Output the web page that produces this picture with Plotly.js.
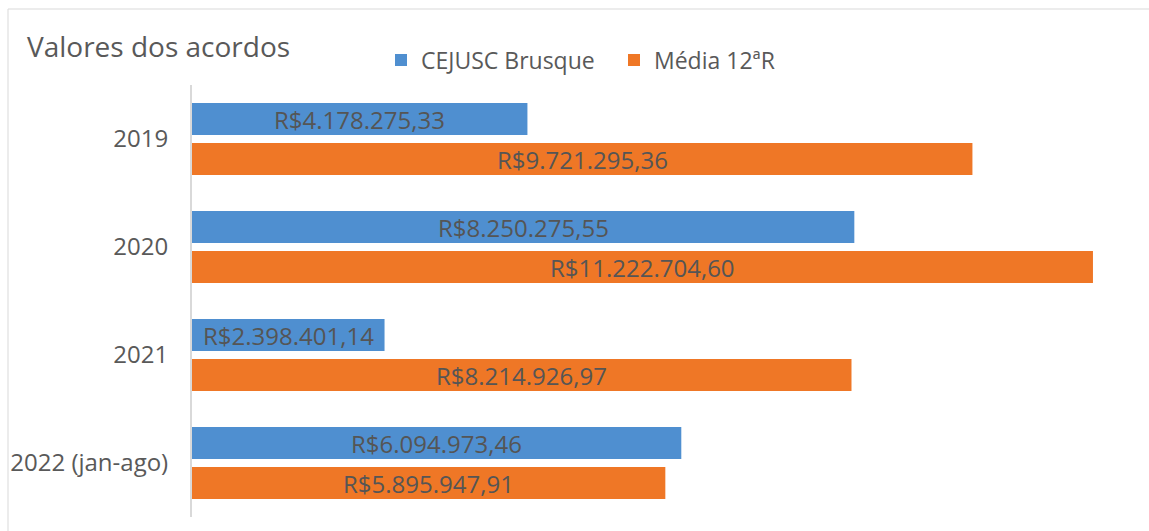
<!DOCTYPE html>
<html>
<head>
<meta charset="utf-8">
<script src="https://cdn.plot.ly/plotly-3.0.1.min.js"></script>
<style>
html,body{margin:0;padding:0;background:#fff;}
#chart{width:1149px;height:531px;}
</style>
</head>
<body>
<div id="chart"></div>
<script>
const categories = ["2019", "2020", "2021", "2022 (jan-ago)"];
const cejuscValues = [4178275.33, 8250275.55, 2398401.14, 6094973.46];
const mediaValues = [9721295.36, 11222704.60, 8214926.97, 5895947.91];
const seriesNames = ["CEJUSC Brusque", "Média 12ªR"];

function brl(v) {
  const parts = v.toFixed(2).split(".");
  const intPart = parts[0].replace(/\B(?=(\d{3})+(?!\d))/g, ".");
  return "R$" + intPart + "," + parts[1];
}

const L = 192, R = 10, T = 85, B = 14, W = 1149, H = 531;
const pw = W - L - R, ph = H - T - B;
function px2x(px){ return (px - L) / pw; }
function py2y(py){ return (H - B - py) / ph; }

const fontFam = "'Open Sans', 'Noto Sans', sans-serif";
const txtColor = "#595959";
const labelFont = {family: fontFam, size: 24, color: "#555555"};

const traces = [
  {
    type: "bar", orientation: "h", name: seriesNames[0],
    y: categories, x: cejuscValues,
    marker: {color: "#4f8fd0"},
    hoverinfo: "skip"
  },
  {
    type: "bar", orientation: "h", name: seriesNames[1],
    y: categories, x: mediaValues,
    marker: {color: "#ef7726"},
    hoverinfo: "skip"
  }
];

// data labels centred in each bar (blue bar sits above category centre, orange below)
const annotations = [];
categories.forEach((c, i) => {
  annotations.push({
    xref: "x", yref: "y", x: cejuscValues[i] / 2, y: i,
    text: brl(cejuscValues[i]), showarrow: false,
    xanchor: "center", yanchor: "middle", yshift: 20,
    font: labelFont
  });
  annotations.push({
    xref: "x", yref: "y", x: mediaValues[i] / 2, y: i,
    text: brl(mediaValues[i]), showarrow: false,
    xanchor: "center", yanchor: "middle", yshift: -20,
    font: labelFont
  });
});

const layout = {
  width: W, height: H,
  margin: {l: L, r: R, t: T, b: B, pad: 0},
  paper_bgcolor: "#ffffff", plot_bgcolor: "#ffffff",
  font: {family: fontFam, color: txtColor},
  barmode: "group",
  bargap: 0.26,
  bargroupgap: 0.2,
  title: {
    text: "Valores dos acordos",
    xref: "container", x: 27 / W, xanchor: "left",
    yref: "container", y: 1 - 47 / H, yanchor: "middle",
    font: {family: fontFam, size: 28, color: txtColor}
  },
  legend: {
    orientation: "h",
    x: px2x(381), xanchor: "left",
    y: py2y(60), yanchor: "middle",
    font: {family: fontFam, size: 23, color: txtColor},
    entrywidth: 188,
    traceorder: "normal",
    itemclick: false
  },
  xaxis: {
    range: [0, pw / 80.28e-6],
    showgrid: false, zeroline: false, showline: false,
    showticklabels: false, ticks: "", fixedrange: true
  },
  yaxis: {
    autorange: "reversed",
    type: "category",
    categoryorder: "array", categoryarray: categories,
    showgrid: false, zeroline: false,
    showline: true, linecolor: "#d9d9d9", linewidth: 2,
    ticks: "outside", ticklen: 17, tickcolor: "rgba(0,0,0,0)",
    tickfont: {family: fontFam, size: 24, color: txtColor},
    fixedrange: true
  },
  annotations: annotations,
  shapes: [
    {
      type: "rect", xref: "paper", yref: "paper",
      x0: px2x(8), x1: px2x(1165), y0: py2y(545), y1: py2y(9),
      line: {color: "#d9d9d9", width: 1}, fillcolor: "rgba(0,0,0,0)",
      layer: "below"
    }
  ],
  showlegend: true
};

Plotly.newPlot("chart", traces, layout, {displayModeBar: false, staticPlot: true});
</script>
</body>
</html>
